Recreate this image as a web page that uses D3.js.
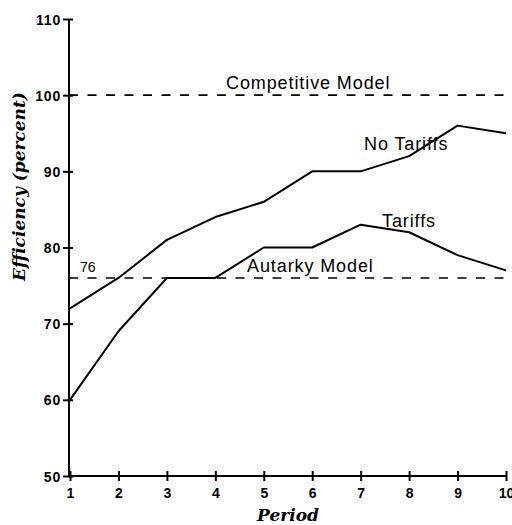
<!DOCTYPE html>
<html>
<head>
<meta charset="utf-8">
<script src="https://cdn.jsdelivr.net/npm/d3@7"></script>
<style>
  html, body { margin: 0; padding: 0; background: #fff; }
  svg { display: block; }
</style>
</head>
<body>
<svg id="chart" width="512" height="525"></svg>
<script>
// ---- data ----
const periods = [1, 2, 3, 4, 5, 6, 7, 8, 9, 10];
const noTariffs = [72, 76, 81, 84, 86, 90, 90, 92, 96, 95];
const tariffs = [60, 69, 76, 76, 80, 80, 83, 82, 79, 77];
const competitiveLevel = 100;
const autarkyLevel = 76;
const yTicks = [50, 60, 70, 80, 90, 100, 110];
const xTicks = [1, 2, 3, 4, 5, 6, 7, 8, 9, 10];

const svg = d3.select("#chart");
const x = d3.scaleLinear().domain([1, 10]).range([70, 506]);
const y = d3.scaleLinear().domain([50, 110]).range([476, 19]);
const axisX0 = 69;

const sans = "'Liberation Sans', Arial, Helvetica, sans-serif";
const serif = "'DejaVu Serif', serif";

// reference dashed lines
[competitiveLevel, autarkyLevel].forEach(v => {
  svg.append("line")
    .attr("x1", axisX0).attr("x2", x(10))
    .attr("y1", y(v)).attr("y2", y(v))
    .attr("stroke", "#000").attr("stroke-width", 1.6)
    .attr("stroke-dasharray", "9,9.5");
});

// series lines
const line = d3.line().x((d, i) => x(periods[i])).y(d => y(d));
[noTariffs, tariffs].forEach(s => {
  svg.append("path").datum(s)
    .attr("d", line)
    .attr("fill", "none").attr("stroke", "#000")
    .attr("stroke-width", 2).attr("stroke-linejoin", "round");
});

// y axis
const gy = svg.append("g").attr("transform", `translate(${axisX0},0)`)
  .call(d3.axisLeft(y).tickValues(yTicks).tickSize(0).tickPadding(8).tickFormat(d3.format("d")));
gy.select(".domain").attr("stroke-width", 2).attr("d", `M0,${y(110)}V${y(50)}`);
gy.selectAll(".tick text")
  .attr("font-family", sans).attr("font-size", 14).attr("font-weight", "bold")
  .attr("letter-spacing", 0.8).attr("fill", "#000").attr("dy", "0.36em");
gy.selectAll(".tick").append("line")
  .attr("x1", -6).attr("x2", 4).attr("stroke", "#000").attr("stroke-width", 2);

// x axis
const gx = svg.append("g").attr("transform", `translate(0,${y(50)})`)
  .call(d3.axisBottom(x).tickValues(xTicks).tickSize(0).tickPadding(12).tickFormat(d3.format("d")));
gx.select(".domain").attr("stroke-width", 2).attr("d", `M${axisX0},0H${x(10)}`);
gx.selectAll(".tick text")
  .attr("font-family", sans).attr("font-size", 14).attr("font-weight", "bold")
  .attr("fill", "#000");
gx.selectAll(".tick").append("line")
  .attr("y1", -5).attr("y2", 5).attr("stroke", "#000").attr("stroke-width", 2);

// annotations
function label(txt, px, py, size, opts = {}) {
  return svg.append("text").attr("x", px).attr("y", py)
    .attr("font-family", sans).attr("font-size", size)
    .attr("letter-spacing", opts.ls || 0)
    .attr("fill", "#000").text(txt);
}
label("Competitive Model", 226, 89, 18, { ls: 0.9 });
label("No Tariffs", 364, 150, 18, { ls: 0.9 });
label("Tariffs", 382, 227, 18, { ls: 0.9 });
label("Autarky Model", 247, 272, 18, { ls: 0.9 });
label(String(autarkyLevel), 80, 272, 14);

// axis titles
svg.append("text")
  .attr("x", (x(1) + x(10)) / 2).attr("y", 521)
  .attr("text-anchor", "middle")
  .attr("font-family", serif).attr("font-size", 17)
  .attr("font-weight", "bold").attr("font-style", "italic")
  .text("Period");

svg.append("text")
  .attr("transform", "translate(25,186.5) rotate(-90)")
  .attr("text-anchor", "middle")
  .attr("font-family", serif).attr("font-size", 17)
  .attr("font-weight", "bold").attr("font-style", "italic")
  .text("Efficiency (percent)");
</script>
</body>
</html>
